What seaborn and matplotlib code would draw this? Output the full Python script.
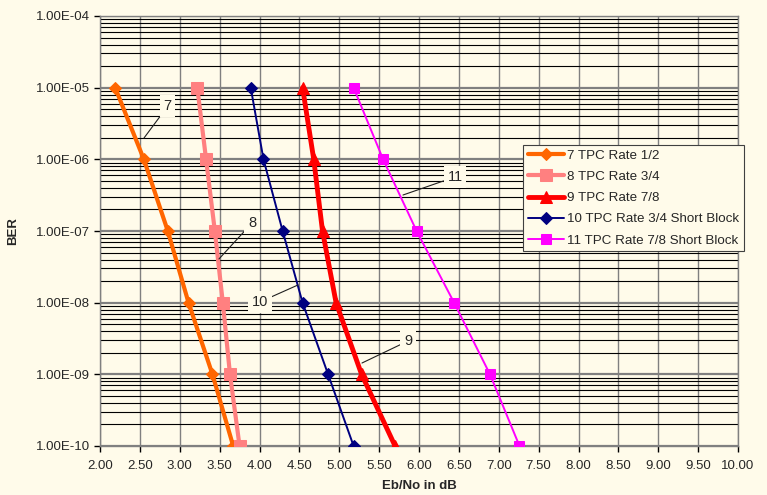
import numpy as np
import pandas as pd
import seaborn as sns
from matplotlib import pyplot as plt
from matplotlib.ticker import FixedLocator, FuncFormatter, LogLocator, NullFormatter

# BER levels shared by every curve
ber = [1e-5, 1e-6, 1e-7, 1e-8, 1e-9, 1e-10]

# Eb/No (dB) for each curve
tpc_1_2 = [2.19, 2.55, 2.85, 3.11, 3.41, 3.67]
tpc_3_4 = [3.22, 3.33, 3.44, 3.54, 3.63, 3.75]
tpc_7_8 = [4.54, 4.68, 4.79, 4.96, 5.28, 5.70]
tpc_3_4_short = [3.89, 4.05, 4.29, 4.54, 4.86, 5.18]
tpc_7_8_short = [5.18, 5.55, 5.97, 6.44, 6.89, 7.26]

labels = [
    "7 TPC Rate 1/2",
    "8 TPC Rate 3/4",
    "9 TPC Rate 7/8",
    "10 TPC Rate 3/4 Short Block",
    "11 TPC Rate 7/8 Short Block",
]
curves = [tpc_1_2, tpc_3_4, tpc_7_8, tpc_3_4_short, tpc_7_8_short]

# look of each curve: colour, marker, line width, marker size
styles = [
    ("#ff6600", "D", 3.0, 6),
    ("#ff8080", "s", 3.0, 9),
    ("#ff0000", "^", 3.5, 9),
    ("#000080", "D", 1.4, 6),
    ("#ff00ff", "s", 1.4, 7),
]

# curve number labels: (text, text x, text y, point x, point y)
callouts = [
    ("7", 2.85, 10 ** -5.256, 2.552, 10 ** -5.702),
    ("8", 3.906, 10 ** -6.888, 3.492, 10 ** -7.390),
    ("10", 4.006, 10 ** -7.990, 4.483, 10 ** -7.753),
    ("11", 6.451, 10 ** -6.246, 5.799, 10 ** -6.498),
    ("9", 5.862, 10 ** -8.535, 5.285, 10 ** -8.842),
]

bg = "#fffbea"

sns.set_style("white")
plt.rcParams["font.family"] = ["Liberation Sans", "DejaVu Sans"]

fig = plt.figure(figsize=(7.67, 4.95), dpi=100, facecolor=bg)
ax = fig.add_axes([100 / 767, 1 - 446 / 495, 638 / 767, 430 / 495])
ax.set_facecolor(bg)

for lab, xs, (col, mk, lw, ms) in zip(labels, curves, styles):
    df = pd.DataFrame({"ebno": xs, "ber": ber})
    sns.lineplot(
        data=df, x="ebno", y="ber", ax=ax, sort=False, color=col, marker=mk,
        linewidth=lw, markersize=ms, markeredgecolor=col, label=lab, zorder=3,
    )

ax.set_yscale("log")
ax.set_xlim(2, 10)
ax.set_ylim(1e-10, 1e-4)

ax.xaxis.set_major_locator(FixedLocator(np.arange(2, 10.01, 0.5)))
ax.xaxis.set_major_formatter(FuncFormatter(lambda v, p: f"{v:.2f}"))
ax.yaxis.set_major_locator(LogLocator(base=10, numticks=10))
ax.yaxis.set_minor_locator(LogLocator(base=10, subs=np.arange(2, 10), numticks=20))
ax.yaxis.set_minor_formatter(NullFormatter())
ax.yaxis.set_major_formatter(FuncFormatter(lambda v, p: f"1.00E-{int(round(-np.log10(v))):02d}"))

ax.grid(True, axis="x", which="major", color="#808080", lw=1.0, zorder=1)
ax.grid(True, axis="y", which="major", color="#808080", lw=1.6, zorder=1)
ax.grid(True, axis="y", which="minor", color="black", lw=0.8, zorder=1)
ax.set_axisbelow(True)

for sp in ax.spines.values():
    sp.set_color("#808080")
    sp.set_linewidth(1.0)

ax.tick_params(axis="both", which="major", direction="out", length=4, width=1,
               color="black", labelsize=9.5, left=True, bottom=True)
ax.tick_params(axis="x", which="major", pad=6)
ax.tick_params(axis="y", which="major", pad=3)
ax.tick_params(axis="y", which="minor", length=0)

ax.set_xlabel("Eb/No in dB", fontsize=9.5, fontweight="bold", labelpad=6)
ax.set_ylabel("BER", fontsize=9.5, fontweight="bold", labelpad=12)

for txt, tx, ty, px, py in callouts:
    ax.annotate(
        txt, xy=(px, py), xytext=(tx, ty), fontsize=10.5, ha="center", va="center",
        bbox=dict(boxstyle="square,pad=0.25", facecolor=bg, edgecolor="none"),
        arrowprops=dict(arrowstyle="-", color="#202020", lw=0.8, shrinkA=0, shrinkB=0),
        zorder=4,
    )

leg = ax.legend(loc="upper left", bbox_to_anchor=(523 / 767, 1 - 145 / 495),
                bbox_transform=fig.transFigure, fontsize=9.6, frameon=True,
                fancybox=False, borderpad=0.35, labelspacing=0.66, handlelength=2.7,
                handletextpad=0.25, borderaxespad=0)
leg.get_frame().set_facecolor(bg)
leg.get_frame().set_edgecolor("#404040")
leg.get_frame().set_linewidth(0.8)
leg.get_frame().set_alpha(1)

fig.savefig("out.png", dpi=100, facecolor=bg)
